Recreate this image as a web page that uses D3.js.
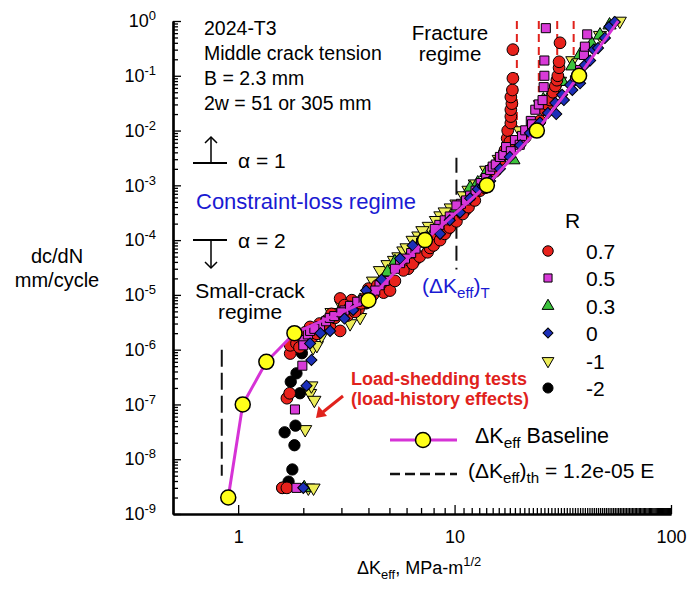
<!DOCTYPE html>
<html>
<head>
<meta charset="utf-8">
<script src="https://cdn.jsdelivr.net/npm/d3@7"></script>
<style>
  body { margin: 0; background: #fff; }
  svg { display: block; }
  text { font-family: "Liberation Sans", Arial, sans-serif; }
</style>
</head>
<body>
<svg id="chart" width="693" height="596"></svg>
<script>
// ---- Crack-growth rate data, [ΔKeff (MPa·m^1/2), dc/dN (mm/cycle)] ----
const rValues = ["0.7", "0.5", "0.3", "0", "-1", "-2"];

const r07 = [
  [1.60,3e-9],[1.68,3e-9],[1.68,1.3e-7],[1.73,1.6e-7],[1.74,8.5e-7],[1.74,1.2e-6],[1.86,1.3e-6],[1.97,1.7e-6],[1.92,1.1e-6],
  [2.05,2.1e-6],[2.2,1.7e-6],[2.38,3e-6],[2.7,4.5e-6],[3.2,4.2e-6],[3.35,8e-6],[3.6,5.5e-6],[4.0,1.3e-5],[4.4,1.5e-5],
  [4.9,1.5e-5],[6.1,3e-5],[6.6,4.4e-5],[8.3,1.2e-4],[9.2,1.5e-4],[11.2,3.5e-4],[12.0,6e-4],[15.0,2.1e-3],[16.8,3.6e-3],
  [2.15,2.6e-6],[2.31,1.95e-6],[2.45,2.4e-6],[2.56,3.4e-6],[2.66,2.6e-6],[2.8,3.8e-6],[2.96,2.2e-6],[2.96,8.6e-6],[3.1,6.5e-6],
  [3.29,6e-6],[3.47,4.9e-6],[3.7,7e-6],[3.9,9e-6],[4.2,1e-5],[4.7,1.1e-5],[5.03,1.2e-5],[5.3,1.8e-5],[5.8,2.8e-5],[6.4,3.7e-5],
  [6.9,5e-5],[7.5,6e-5],[7.7,7.2e-5],[8.0,8e-5],[8.57,1e-4],[9.0,1.3e-4],[9.5,1.7e-4],[10.2,2.2e-4],[10.9,3e-4],[11.6,4e-4],
  [12.4,5.3e-4],[13.1,8e-4],[13.8,9e-4],[14.6,1.5e-3],[15.4,1.8e-3],[16.2,2.9e-3],[17.1,4.4e-3],[17.5,7.2e-3],[17.6,0.01],
  [18.0,6.2e-3],[18.2,0.0137],[18.2,0.018],[18.2,0.024],[18.4,0.031],[18.2,0.041],[18.5,0.055],[18.6,0.09],[18.6,0.3],
  [20.1,5.9e-3],[21.2,7.5e-3],[22.3,0.01],[23.5,0.012],[24.8,0.015],[26,0.024],[26.8,0.03],[27.6,0.036],[28.5,0.05],
  [29.2,0.065],[29.7,0.083],[30.0,0.1],[30.4,0.14],[30.4,0.18],[30.7,0.4]
];
const r05 = [
  [1.86,3e-9],[1.83,8.1e-8],[1.98,5.1e-7],[2.0,1.5e-6],[2.0,1.2e-6],[2.1,1.9e-6],[2.15,2.2e-6],[2.39,2.7e-6],[2.55,3.3e-6],
  [2.25,2.4e-6],[2.65,3.8e-6],[3.1,5.2e-6],[4.0,1e-5],[4.5,1.5e-5],[5.6,3.8e-5],[6.3,5.8e-5],[7.0,9e-5],[8.5,1.9e-4],
  [10.7,4.6e-4],[11.8,6.5e-4],[13.2,1.1e-3],
  [2.78,4.1e-6],[3.0,4.8e-6],[3.29,6.3e-6],[3.55,7.5e-6],[3.8,8e-6],[4.3,1.2e-5],[4.75,1.8e-5],[5.3,3e-5],[5.9,4.6e-5],
  [6.6,7e-5],[7.3,1.1e-4],[8.1,1.6e-4],[9.0,2.3e-4],[9.5,2.7e-4],[10.2,4.3e-4],[11.3,5.3e-4],[12.5,8e-4],[14.0,1.36e-3],
  [14.6,1.9e-3],[15.0,2.2e-3],[15.5,2.4e-3],[16.2,3.3e-3],[16.8,3.6e-3],[17.3,5e-3],[18.2,4.2e-3],[19.0,6.7e-3],[20.0,5.5e-3],
  [20.5,8e-3],[21.2,0.0101],[22.5,0.015],[22.8,0.013],[23.6,0.024],[24.5,0.03],[25.5,0.036],[25.8,0.062],[26.0,0.1],
  [26.0,0.19],[26.4,0.74],[36,0.083],[38,0.127],[39.6,0.24],[40,0.34],[41,0.57]
];
const r03 = [
  [2.02,3e-9],[2.15,1.8e-6],[2.5,2.8e-6],[2.96,5.2e-6],[3.66,7.9e-6],[4.52,1.6e-5],[5.3,4e-5],[6.2,5.5e-5],[7.7,1.1e-4],
  [2.3,2.3e-6],[3.3,6.8e-6],[4.9,2.6e-5],[8.4,1.4e-4],[12.8,1.1e-3],[29,0.06],
  [9.0,2e-4],[10.1,3.5e-4],[11.8,8.9e-4],[14,1.7e-3],[16.2,3.1e-3],[18.7,2.9e-3],[20.1,6.7e-3],[22.5,0.012],[25.7,0.036],
  [27.6,0.044],[31.5,0.078],[35,0.15],[38,0.24],[43,0.38],[47,0.55],[52,0.84]
];
const r00 = [
  [2.0,3e-9],[2.07,2.2e-7],[2.18,6.5e-7],[2.15,1.3e-6],[2.66,2.2e-6],[3.1,3.7e-6],[3.9,1.2e-5],[5.6,4.6e-5],[6.4,8e-5],
  [2.4,2e-6],[3.4,5.3e-6],[4.6,1.9e-5],[7.2,9e-5],[9.5,2.3e-4],[12.8,8.5e-4],[13.5,9.5e-4],
  [8.57,1.3e-4],[10.6,3.2e-4],[11.8,5.8e-4],[14.6,1.2e-3],[16.2,2e-3],[18,3.3e-3],[20.1,5.4e-3],[22.3,9e-3],[24.8,0.014],
  [27,0.021],[29.2,0.032],[29.5,0.02],[31.4,0.045],[32,0.036],[34.2,0.068],[35,0.055],[37,0.1],[38,0.073],[40,0.157],
  [42.3,0.19],[44,0.3],[46,0.32],[49.5,0.49],[52,0.79],[55,0.96]
];
const rm1 = [
  [2.04,3.5e-8],[2.11,3e-9],[2.23,3e-9],[2.15,1.6e-7],[2.18,2.2e-7],[2.25,1.2e-7],[2.22,1.1e-6],[2.31,1.2e-6],[2.43,1.8e-6],
  [2.7,4.8e-6],[3.0,6.5e-6],[4.2,1.8e-5],[5.5,5e-5],[6.8,1.2e-4],[7.6,1.8e-4],[8.6,2.8e-4],[9.6,3.9e-4],[11.0,6.5e-4],
  [11.6,8.2e-4],[16,3e-3],[18,5e-3],
  [3.29,3e-6],[3.66,3.9e-6],[4.52,2.8e-5],[4.9,3.6e-5],[5.25,4.3e-5],[5.8,6.4e-5],[6.0,7.3e-5],[6.4,1e-4],[7.1,1.5e-4],
  [8.2,2.3e-4],[9.0,3.3e-4],[10.2,4.6e-4],[12.4,1.07e-3],[14,1.9e-3],[20,0.01],[24.8,0.03],[30.7,0.08],[35,0.19],
  [47,0.55],[58,1.0]
];
const rm2 = [
  [1.6,3e-9],[1.71,3.9e-9],[1.78,6.5e-9],[1.82,1.8e-8],[1.64,3.1e-8],[1.84,4.1e-8],[1.93,1.6e-7],[1.75,2.6e-7],
  [1.86,3.7e-7],[1.97,8.6e-7],[3.9,7e-6],[17,4e-3]
];

// ΔKeff baseline curve
const baselineK    = [0.9, 1.05, 1.35, 1.82, 4.0, 7.3, 14.1, 24, 37.6];
const baselineRate = [2e-9, 1e-7, 6e-7, 2e-6, 8e-6, 1e-4, 1e-3, 1e-2, 1e-1];
const baselineEnd  = [57, 1];

// Effective threshold, transition and fracture (Kc) lines
const thresholdK = 0.84, thresholdRates = [1e-6, 5e-9];
const transitionK = 10.2, transitionRates = [3.2e-3, 2.9e-5];
const fractureK = [19.4, 24.5, 29.8, 35.5];
const fractureLow = [0.0095, 0.05, 0.2, 0.13];

// ---- Drawing ----
const FONT = '"Liberation Sans", Arial, sans-serif';
const svg = d3.select("#chart");
const x = d3.scaleLog().domain([0.5, 100]).range([173, 671]);
const y = d3.scaleLog().domain([1e-9, 1]).range([514, 21]);

const isMajor = v => Math.abs(Math.log10(v) - Math.round(Math.log10(v))) < 1e-6;
const xMajor = x.ticks(100).filter(isMajor);
const xMinor = x.ticks(100).filter(v => !isMajor(v) && v > 0.5);
const yMajor = y.ticks(100).filter(isMajor);
const yMinor = y.ticks(100).filter(v => !isMajor(v));

// Axes: ticks point inward
function styleAxis(g) {
  g.attr("font-family", FONT).attr("font-size", 18);
  g.select(".domain").attr("stroke", "#000").attr("stroke-width", 2.2);
  g.selectAll(".tick line").attr("stroke", "#000").attr("stroke-width", 1.3);
  g.selectAll(".tick text").attr("fill", "#000");
}
svg.append("g").attr("transform", "translate(0,514)")
  .call(d3.axisBottom(x).tickValues(xMinor).tickSize(-6).tickSizeOuter(0).tickFormat(""))
  .call(styleAxis);
svg.append("g").attr("transform", "translate(0,514)")
  .call(d3.axisBottom(x).tickValues(xMajor).tickSize(-9).tickSizeOuter(0).tickPadding(16).tickFormat(d3.format("~g")))
  .call(styleAxis);
svg.append("g").attr("transform", "translate(173,0)")
  .call(d3.axisLeft(y).tickValues(yMinor).tickSize(-5).tickSizeOuter(0).tickFormat(""))
  .call(styleAxis);
const gy = svg.append("g").attr("transform", "translate(173,0)")
  .call(d3.axisLeft(y).tickValues(yMajor).tickSize(-8).tickSizeOuter(0).tickPadding(17))
  .call(styleAxis);
gy.selectAll(".tick text").each(function (d) {
  const e = Math.round(Math.log10(d));
  const t = d3.select(this).text(null);
  t.append("tspan").text("10");
  t.append("tspan").attr("dy", -7).attr("font-size", 13).text(e);
});

// Reference lines
svg.append("line")
  .attr("x1", x(thresholdK)).attr("x2", x(thresholdK))
  .attr("y1", y(thresholdRates[0])).attr("y2", y(thresholdRates[1]))
  .attr("stroke", "#111").attr("stroke-width", 2).attr("stroke-dasharray", "17,6");
svg.append("line")
  .attr("x1", x(transitionK)).attr("x2", x(transitionK))
  .attr("y1", y(transitionRates[0])).attr("y2", y(transitionRates[1]))
  .attr("stroke", "#111").attr("stroke-width", 2).attr("stroke-dasharray", "15,7");
svg.append("g").selectAll("line").data(fractureK).join("line")
  .attr("x1", d => x(d)).attr("x2", d => x(d))
  .attr("y1", y(1)).attr("y2", (d, i) => y(fractureLow[i]))
  .attr("stroke", "#e0221c").attr("stroke-width", 2).attr("stroke-dasharray", "8,5");

// Marker styles per stress ratio
const series = [
  { data: rm1, type: d3.symbolTriangle, size: 75, rot: 180, fill: "#eded58" },
  { data: r03, type: d3.symbolTriangle, size: 75, rot: 0, fill: "#3cc23c" },
  { data: rm2, type: d3.symbolCircle, size: 100, rot: 0, fill: "#000" },
  { data: r07, type: d3.symbolCircle, size: 108, rot: 0, fill: "#e8221c" },
  { data: r05, type: d3.symbolSquare, size: 82, rot: 0, fill: "#d83ad8" },
  { data: r00, type: d3.symbolSquare, size: 62, rot: 45, fill: "#1c2fb8" }
];
series.forEach(s => {
  const sym = d3.symbol().type(s.type).size(s.size)();
  svg.append("g").selectAll("path").data(s.data).join("path")
    .attr("d", sym)
    .attr("transform", d => `translate(${x(d[0])},${y(d[1])}) rotate(${s.rot})`)
    .attr("fill", s.fill).attr("stroke", "#000").attr("stroke-width", 1);
});

// Baseline curve
const basePts = baselineK.map((k, i) => [k, baselineRate[i]]);
svg.append("path")
  .datum(basePts.concat([baselineEnd]))
  .attr("d", d3.line().x(d => x(d[0])).y(d => y(d[1])))
  .attr("fill", "none").attr("stroke", "#d633d6").attr("stroke-width", 3);
svg.append("g").selectAll("circle").data(basePts).join("circle")
  .attr("cx", d => x(d[0])).attr("cy", d => y(d[1])).attr("r", 7.5)
  .attr("fill", "#ffff1a").attr("stroke", "#000").attr("stroke-width", 1.5);

// ---- Text helpers ----
function txt(xp, yp, size, opts = {}) {
  return svg.append("text").attr("x", xp).attr("y", yp)
    .attr("font-size", size).attr("font-family", FONT)
    .attr("fill", opts.fill || "#000")
    .attr("font-weight", opts.weight || "normal")
    .attr("text-anchor", opts.anchor || "start");
}
function parts(t, list) {
  // list of [string, kind] where kind: "n" normal, "sub", "sup"
  let shift = 0;
  list.forEach(([s, kind]) => {
    const target = kind === "sub" ? 5 : kind === "sup" ? -8 : 0;
    const sp = t.append("tspan").attr("dy", target - shift).text(s);
    if (kind !== "n") sp.attr("font-size", "0.72em");
    shift = target;
  });
  return t;
}

// Specimen notes
const notes = ["2024-T3", "Middle crack tension", "B = 2.3 mm", "2w = 51 or 305 mm"];
notes.forEach((s, i) => txt(204, 35 + i * 25, 19.5).text(s));

// α markers
function alphaMark(yLine, yTip, label, yText) {
  svg.append("line").attr("x1", 193).attr("x2", 227).attr("y1", yLine).attr("y2", yLine)
    .attr("stroke", "#000").attr("stroke-width", 1.8);
  svg.append("line").attr("x1", 211).attr("x2", 211).attr("y1", yLine).attr("y2", yTip)
    .attr("stroke", "#000").attr("stroke-width", 1.5);
  const d = yTip < yLine ? 6 : -6;
  svg.append("path").attr("d", `M205,${yTip + d} L211,${yTip} L217,${yTip + d}`)
    .attr("fill", "none").attr("stroke", "#000").attr("stroke-width", 1.5);
  txt(238, yText, 21).text(label);
}
alphaMark(163, 137, "α = 1", 168);
alphaMark(240, 268, "α = 2", 248);

txt(196, 209, 22, { fill: "#1a1ad2" }).text("Constraint-loss regime");
txt(250, 298, 21, { anchor: "middle" }).text("Small-crack");
txt(250, 319, 21, { anchor: "middle" }).text("regime");
txt(450, 40, 20.5, { anchor: "middle" }).text("Fracture");
txt(450, 61, 20.5, { anchor: "middle" }).text("regime");
parts(txt(422, 293, 21, { fill: "#1a1ad2" }), [["(ΔK", "n"], ["eff", "sub"], [")", "n"], ["T", "sub"]]);

// Load-shedding note and arrow
txt(439, 385, 18, { fill: "#e0221c", weight: "bold", anchor: "middle" }).text("Load-shedding tests");
txt(440, 405, 18, { fill: "#e0221c", weight: "bold", anchor: "middle" }).text("(load-history effects)");
svg.append("line").attr("x1", 343).attr("y1", 396).attr("x2", 323).attr("y2", 412)
  .attr("stroke", "#e0221c").attr("stroke-width", 3);
svg.append("path").attr("d", "M316,418 L318.5,406 L327,416 Z").attr("fill", "#e0221c");

// R legend
txt(565, 228, 21).text("R");
const legY = [251, 278, 306, 333, 361, 388];
const legOrder = [3, 4, 1, 5, 0, 2]; // index into series for R = 0.7 … -2
legOrder.forEach((si, i) => {
  const s = series[si];
  svg.append("path")
    .attr("d", d3.symbol().type(s.type).size(s.size * 0.8)())
    .attr("transform", `translate(548,${legY[i]}) rotate(${s.rot})`)
    .attr("fill", s.fill).attr("stroke", "#000").attr("stroke-width", 1);
  txt(586, legY[i] + 7.5, 21).text(rValues[i]);
});

// Line legend
svg.append("line").attr("x1", 390).attr("x2", 457).attr("y1", 440).attr("y2", 440)
  .attr("stroke", "#d633d6").attr("stroke-width", 3);
svg.append("circle").attr("cx", 423).attr("cy", 440).attr("r", 7.5)
  .attr("fill", "#ffff1a").attr("stroke", "#000").attr("stroke-width", 1.5);
parts(txt(475, 443, 21.5), [["ΔK", "n"], ["eff", "sub"], [" Baseline", "n"]]);
svg.append("line").attr("x1", 390).attr("x2", 457).attr("y1", 474).attr("y2", 474)
  .attr("stroke", "#111").attr("stroke-width", 2.5).attr("stroke-dasharray", "10,5");
parts(txt(468, 478, 21), [["(ΔK", "n"], ["eff", "sub"], [")", "n"], ["th", "sub"], [" = 1.2e-05 E", "n"]]);

// Axis titles
txt(57, 263, 20, { anchor: "middle" }).text("dc/dN");
txt(57, 287, 20, { anchor: "middle" }).text("mm/cycle");
parts(txt(357, 574, 18), [["ΔK", "n"], ["eff", "sub"], [", MPa-m", "n"], ["1/2", "sup"]]);
</script>
</body>
</html>
